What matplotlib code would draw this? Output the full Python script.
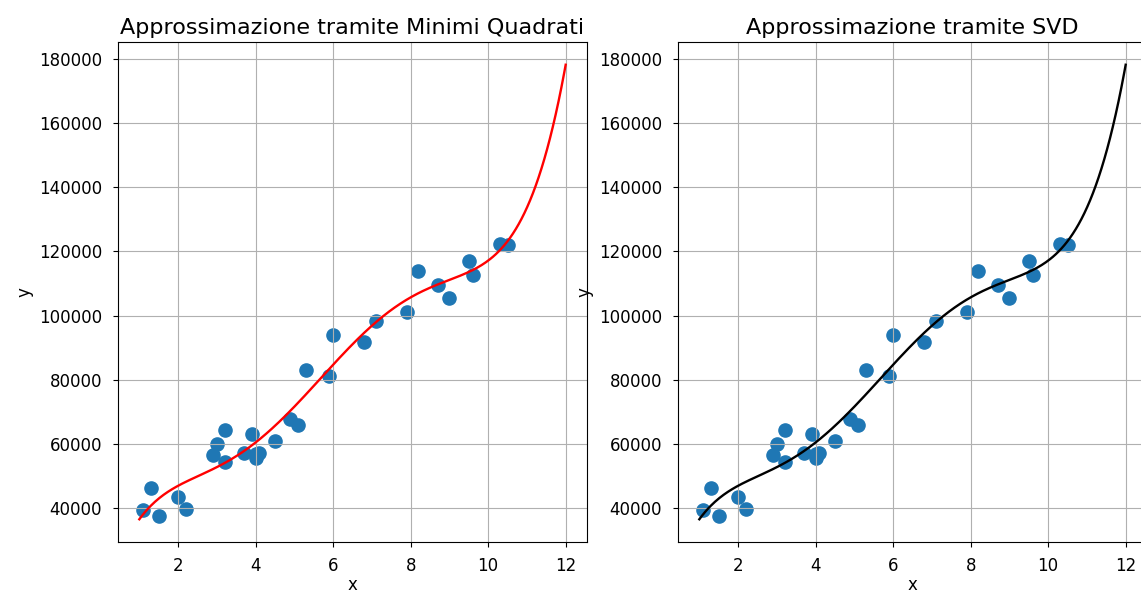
import numpy as np
import matplotlib
matplotlib.use('Agg')
import matplotlib.pyplot as plt

# anni di esperienza e stipendio
x = np.array([1.1, 1.3, 1.5, 2.0, 2.2, 2.9, 3.0, 3.2, 3.2, 3.7, 3.9, 4.0, 4.0, 4.1, 4.5,
              4.9, 5.1, 5.3, 5.9, 6.0, 6.8, 7.1, 7.9, 8.2, 8.7, 9.0, 9.5, 9.6, 10.3, 10.5])
y = np.array([39343, 46205, 37731, 43525, 39891, 56642, 60150, 54445, 64445, 57189,
              63218, 55794, 56957, 57081, 61111, 67938, 66029, 83088, 81363, 93940,
              91738, 98273, 101302, 113812, 109431, 105582, 116969, 112635, 122391, 121872])
grado = 5

# matrice di Vandermonde
A = np.vander(x, grado + 1)

# minimi quadrati
coef_mq = np.linalg.lstsq(A, y, rcond=None)[0]

# SVD
U, s, Vt = np.linalg.svd(A, full_matrices=False)
coef_svd = Vt.T @ ((U.T @ y) / s)

xx = np.linspace(1, 12, 300)
y_mq = np.polyval(coef_mq, xx)
y_svd = np.polyval(coef_svd, xx)

plt.rcParams['font.size'] = 12
plt.rcParams['axes.titlesize'] = 16
plt.rcParams['xtick.major.pad'] = 7
plt.rcParams['ytick.major.pad'] = 8

fig = plt.figure(figsize=(11.41, 5.96), dpi=100)
ax1 = fig.add_axes([118/1141, 54/596, 469/1141, 500/596])
ax2 = fig.add_axes([678/1141, 54/596, 469/1141, 500/596])

ax1.scatter(x, y, s=90)
ax1.plot(xx, y_mq, color='r', lw=1.7)
ax1.set_title('Approssimazione tramite Minimi Quadrati')
ax1.set_xlabel('x', labelpad=1)
ax1.set_ylabel('y')
ax1.grid()

ax2.scatter(x, y, s=90)
ax2.plot(xx, y_svd, color='k', lw=1.7)
ax2.set_title('Approssimazione tramite SVD')
ax2.set_xlabel('x', labelpad=1)
ax2.set_ylabel('y')
ax2.grid()

fig.savefig('out.png', dpi=100)
